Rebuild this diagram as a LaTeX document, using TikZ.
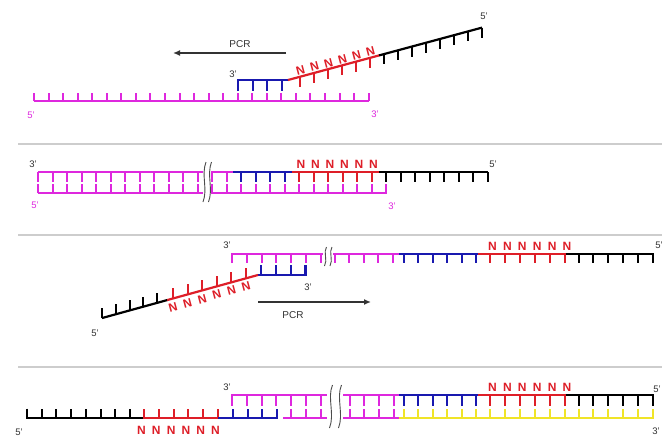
\documentclass[tikz,border=0pt]{standalone}
\usepackage{fontspec}
\setmainfont{Liberation Sans}
\usetikzlibrary{arrows.meta}
\definecolor{mg}{RGB}{222,40,222}
\definecolor{bl}{RGB}{25,25,175}
\definecolor{rd}{RGB}{222,30,40}
\definecolor{yl}{RGB}{240,228,40}
\definecolor{sepc}{RGB}{205,205,205}
\definecolor{lab}{RGB}{50,50,50}
\begin{document}
\begin{tikzpicture}[x=1pt,y=-1pt,
  strand/.style={line width=2.2pt},
  tk/.style={line width=2pt},
  sepline/.style={draw=sepc,line width=1.2pt},
  lbl/.style={font=\fontsize{9.5}{9.5}\selectfont,text=lab,inner sep=0pt},
  nlab/.style={font=\bfseries\fontsize{12}{12}\selectfont,text=rd,inner sep=0pt},
  brk/.style={draw=black!70,line width=0.9pt},
  arr/.style={line width=1.8pt,draw=black!80,-{Latex[length=7pt,width=6pt]}},
  ]
\fill[white] (0,0) rectangle (662,437);
\path[use as bounding box] (0,0) rectangle (662,437);

% separators
\draw[sepline] (18,144) -- (662,144);
\draw[sepline] (18,235) -- (662,235);
\draw[sepline] (18,367) -- (662,367);

% ================= Panel 1 =================
\draw[mg,strand] (34,101) -- (369,101);
\foreach \k in {0,...,23} \draw[mg,tk] ({34+14.55*\k},101) -- ++(0,-8.5);
\draw[bl,strand] (238,91) -- (238,80) -- (288,80);
\foreach \k in {1,...,3} \draw[bl,tk] ({238+14.55*\k},80) -- ++(0,11);
\draw[rd,strand] (288,80) -- (379,55.43);
\draw[black,strand] (379,55.43) -- (482,27.62);
\foreach \k in {0,...,5}{
  \pgfmathsetmacro\xx{300+14*\k}
  \pgfmathsetmacro\yy{80-0.27*(\xx-288)}
  \draw[rd,tk] (\xx,\yy) -- ++(0,10);
  \node[nlab,rotate=15,anchor=south] (pa\k) at (\xx+1.5,\yy-2) {N};
}
\foreach \k in {0,...,7}{
  \pgfmathsetmacro\xx{384+14*\k}
  \pgfmathsetmacro\yy{80-0.27*(\xx-288)}
  \draw[black,tk] (\xx,\yy) -- ++(0,10);
}
\draw[arr] (286,53) -- (173,53);
\node[lbl,font=\fontsize{10}{10}\selectfont] (pcr1) at (240,44) {PCR};
\node[lbl] (p1a) at (233,74) {3'};
\node[lbl,text=mg] (p1b) at (31,115) {5'};
\node[lbl,text=mg] (p1c) at (375,114) {3'};
\node[lbl] (p1d) at (484,16) {5'};

% ================= Panel 2 =================
\draw[mg,strand] (38,172) -- (203,172);
\draw[mg,strand] (211,172) -- (233,172);
\draw[bl,strand] (233,172) -- (292,172);
\draw[rd,strand] (292,172) -- (379,172);
\draw[black,strand] (379,172) -- (488,172);
\draw[mg,strand] (38,193) -- (203,193);
\draw[mg,strand] (211,193) -- (386.5,193);
\foreach \k in {0,...,13} \draw[mg,tk] ({38+14.5*\k},172) -- ++(0,9.5);
\foreach \k in {14,...,17} \draw[bl,tk] ({38+14.5*\k},172) -- ++(0,9.5);
\foreach \k in {18,...,23}{
  \draw[rd,tk] ({38+14.5*\k},172) -- ++(0,9.5);
  \node[nlab,anchor=base] (pb\k) at ({40+14.5*\k},168.5) {N};
}
\foreach \k in {24,...,31} \draw[black,tk] ({38+14.5*\k},172) -- ++(0,9.5);
\foreach \k in {0,...,24} \draw[mg,tk] ({38+14.5*\k},193) -- ++(0,-9.5);
\foreach \bx in {204.5,210} \draw[brk] (\bx+1.5,162) .. controls (\bx-3.5,175) and (\bx+3.5,189) .. (\bx-1.5,202);
\node[lbl] (p2a) at (33,164) {3'};
\node[lbl,text=mg] (p2b) at (35,205) {5'};
\node[lbl] (p2c) at (493,164) {5'};
\node[lbl,text=mg] (p2d) at (392,206) {3'};

% ================= Panel 3 =================
\draw[mg,strand] (232,263) -- (232,254) -- (323,254);
\draw[mg,strand] (333,254) -- (399,254);
\draw[bl,strand] (399,254) -- (478,254);
\draw[rd,strand] (478,254) -- (566,254);
\draw[black,strand] (566,254) -- (653.5,254);
\foreach \k in {1,...,6} \draw[mg,tk] ({232+14.8*\k},254) -- ++(0,9);
\foreach \k in {0,...,4} \draw[mg,tk] ({334.5+14.5*\k},254) -- ++(0,9);
\foreach \k in {0,...,5} \draw[bl,tk] ({404+14.4*\k},254) -- ++(0,9);
\foreach \k in {0,...,5}{
  \draw[rd,tk] ({490+14.9*\k},254) -- ++(0,9);
  \node[nlab,anchor=base] (pc\k) at ({492.5+14.9*\k},250) {N};
}
\foreach \k in {0,...,5} \draw[black,tk] ({578.5+14.9*\k},254) -- ++(0,9);
\foreach \bx in {325.5,331} \draw[brk] (\bx+1,247) .. controls (\bx-2.5,252) and (\bx+2.5,260) .. (\bx-1,266);
% lower strand
\draw[bl,strand] (258,275) -- (305.5,275) -- (305.5,265);
\foreach \k in {0,...,2} \draw[bl,tk] ({261+14.8*\k},275) -- ++(0,-10);
\draw[rd,strand] (258,275) -- (167,300.12);
\draw[black,strand] (167,300.12) -- (102,318.06);
\foreach \k in {0,...,5}{
  \pgfmathsetmacro\xx{246-14.6*\k}
  \pgfmathsetmacro\yy{275+0.276*(258-\xx)}
  \draw[rd,tk] (\xx,\yy) -- ++(0,-10);
  \node[nlab,rotate=15] (pd\k) at (\xx,\yy+8.5) {N};
}
\foreach \k in {0,...,4}{
  \pgfmathsetmacro\xx{157-13.75*\k}
  \pgfmathsetmacro\yy{275+0.276*(258-\xx)}
  \draw[black,tk] (\xx,\yy) -- ++(0,-10);
}
\draw[arr] (258,302) -- (371,302);
\node[lbl,font=\fontsize{10}{10}\selectfont] (pcr2) at (293,315) {PCR};
\node[lbl] (p3a) at (227,245) {3'};
\node[lbl] (p3b) at (308,287) {3'};
\node[lbl] (p3c) at (95,333) {5'};
\node[lbl] (p3d) at (659,245) {5'};

% ================= Panel 4 =================
% top strand
\draw[mg,strand] (232,405.5) -- (232,395) -- (327,395);
\draw[mg,strand] (343,395) -- (399,395);
\draw[bl,strand] (399,395) -- (478,395);
\draw[rd,strand] (478,395) -- (566,395);
\draw[black,strand] (566,395) -- (653.5,395);
\foreach \k in {1,...,6} \draw[mg,tk] ({232+14.8*\k},395) -- ++(0,10.5);
\foreach \k in {0,...,3} \draw[mg,tk] ({349.5+14.8*\k},395) -- ++(0,10.5);
\foreach \k in {0,...,5} \draw[bl,tk] ({404+14.4*\k},395) -- ++(0,10.5);
\foreach \k in {0,...,5}{
  \draw[rd,tk] ({490+14.9*\k},395) -- ++(0,10.5);
  \node[nlab,anchor=base] (pe\k) at ({492.5+14.9*\k},391) {N};
}
\foreach \k in {0,...,5} \draw[black,tk] ({578.5+14.9*\k},395) -- ++(0,10.5);
% bottom strand
\draw[black,strand] (27,408.5) -- (27,418) -- (143,418);
\foreach \k in {1,...,7} \draw[black,tk] ({27+14.7*\k},418) -- ++(0,-9.5);
\draw[rd,strand] (143,418) -- (218,418);
\foreach \k in {0,...,5}{
  \draw[rd,tk] ({144+14.8*\k},418) -- ++(0,-9.5);
  \node[nlab] (pf\k) at ({141.5+14.8*\k},430) {N};
}
\draw[bl,strand] (218,418) -- (278,418);
\foreach \k in {0,...,3} \draw[bl,tk] ({233+14.7*\k},418) -- ++(0,-9.5);
\draw[mg,strand] (283,418) -- (327,418);
\foreach \k in {4,...,6} \draw[mg,tk] ({232+14.8*\k},418) -- ++(0,-9.5);
\draw[mg,strand] (343,418) -- (399,418);
\foreach \k in {0,...,3} \draw[mg,tk] ({349.5+14.8*\k},418) -- ++(0,-9.5);
\draw[yl,strand] (399,418) -- (653.5,418);
\foreach \k in {0,...,5} \draw[yl,tk] ({404+14.4*\k},418) -- ++(0,-9.5);
\foreach \k in {0,...,5} \draw[yl,tk] ({490+14.9*\k},418) -- ++(0,-9.5);
\foreach \k in {0,...,5} \draw[yl,tk] ({578.5+14.9*\k},418) -- ++(0,-9.5);
\foreach \bx in {331,340} \draw[brk] (\bx+1.5,385) .. controls (\bx-4,398) and (\bx+4,414) .. (\bx-1.5,428);
\node[lbl] (p4a) at (227,387) {3'};
\node[lbl] (p4b) at (19,432) {5'};
\node[lbl] (p4c) at (657,389) {5'};
\node[lbl] (p4d) at (656,431) {3'};
\end{tikzpicture}
\end{document}
